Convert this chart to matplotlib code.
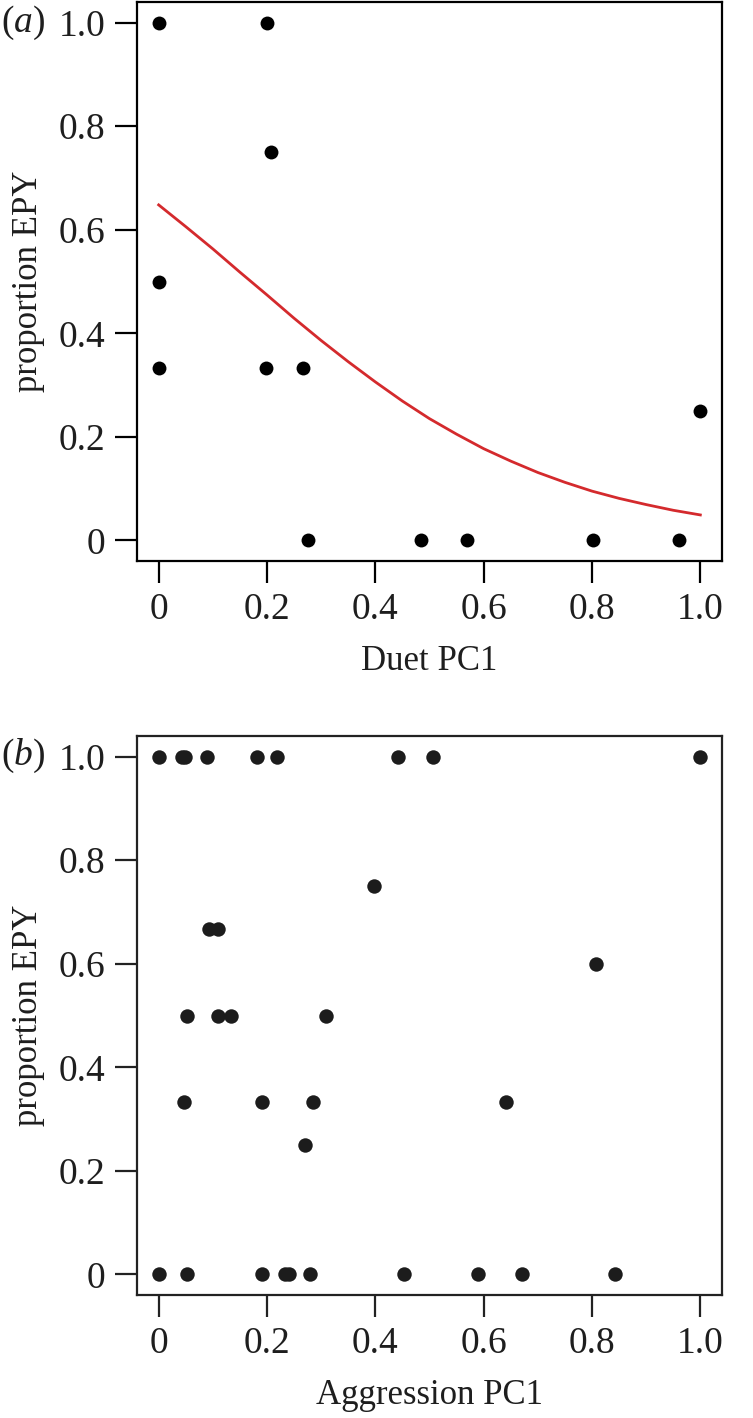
import matplotlib
matplotlib.use('Agg')
import matplotlib.pyplot as plt

FIGSIZE = (7.53, 14.18)
DPI = 100
FONT = 'Liberation Serif'
RED = '#d42a2d'

# panel (a): duet
duet_x = [0.0, 0.200, 0.208, 0.0, 0.0, 0.198, 0.266, 1.0,
          0.275, 0.485, 0.570, 0.802, 0.960]
duet_y = [1.0, 1.0, 0.75, 0.5, 0.333, 0.333, 0.333, 0.25,
          0.0, 0.0, 0.0, 0.0, 0.0]

# fitted curve
fit_x = [0.0, 0.05, 0.1, 0.15, 0.2, 0.25, 0.3, 0.35, 0.4, 0.45, 0.5,
         0.55, 0.6, 0.65, 0.7, 0.75, 0.8, 0.85, 0.9, 0.95, 1.0]
fit_y = [0.648, 0.606, 0.563, 0.518, 0.474, 0.429, 0.386, 0.345, 0.306,
         0.269, 0.235, 0.205, 0.177, 0.153, 0.131, 0.112, 0.095, 0.081,
         0.069, 0.058, 0.049]

# panel (b): aggression
aggr_x = [0.0, 0.043, 0.049, 0.089, 0.181, 0.218, 0.441, 0.507, 1.0,
          0.397,
          0.093, 0.110,
          0.807,
          0.052, 0.109, 0.133, 0.309,
          0.046, 0.191, 0.285, 0.642,
          0.270,
          0.0, 0.052, 0.191, 0.233, 0.240, 0.280, 0.453, 0.589, 0.671,
          0.842]
aggr_y = [1.0] * 9 + [0.75] + [0.667] * 2 + [0.6] + [0.5] * 4 + \
         [0.333] * 4 + [0.25] + [0.0] * 10

TICKS = [0.0, 0.2, 0.4, 0.6, 0.8, 1.0]
TICK_LABELS = ['0', '0.2', '0.4', '0.6', '0.8', '1.0']

plt.rcParams['font.family'] = FONT
plt.rcParams['mathtext.fontset'] = 'custom'
plt.rcParams['mathtext.rm'] = FONT
plt.rcParams['mathtext.it'] = FONT + ':italic'


def px(x, y):
    # pixel position (from top-left) -> figure fraction
    return x / (FIGSIZE[0] * DPI), 1 - y / (FIGSIZE[1] * DPI)


def style_axes(ax, edge):
    ax.set_xlim(-0.04, 1.04)
    ax.set_ylim(-0.04, 1.04)
    ax.set_xticks(TICKS)
    ax.set_xticklabels(TICK_LABELS)
    ax.set_yticks(TICKS)
    ax.set_yticklabels(TICK_LABELS)
    for s in ax.spines.values():
        s.set_linewidth(1.6)
        s.set_color(edge)
    ax.tick_params(direction='out', length=15.8, width=1.6, color=edge,
                   labelsize=27, pad=7, labelcolor='#1e1e1e')


fig = plt.figure(figsize=FIGSIZE, dpi=DPI)
W, H = FIGSIZE[0] * DPI, FIGSIZE[1] * DPI

ax1 = fig.add_axes([137 / W, 1 - 561 / H, 585 / W, 559 / H])
ax1.plot(fit_x, fit_y, color=RED, lw=2.0, zorder=2)
ax1.plot(duet_x, duet_y, 'o', color='black', markersize=10, mew=0, zorder=3)
style_axes(ax1, 'black')
ax1.set_xlabel('Duet PC1', fontsize=25, labelpad=13, color='#1e1e1e')
ax1.set_ylabel('proportion EPY', fontsize=25, labelpad=10, color='#1e1e1e')

ax2 = fig.add_axes([137 / W, 1 - 1295 / H, 585 / W, 559 / H])
ax2.plot(aggr_x, aggr_y, 'o', color='#1c1c1c', markersize=10.4, mew=0,
         zorder=3)
style_axes(ax2, '#222222')
ax2.set_xlabel('Aggression PC1', fontsize=25, labelpad=13, color='#1e1e1e')
ax2.set_ylabel('proportion EPY', fontsize=25, labelpad=10, color='#1e1e1e')

for label, ypix in [('a', 23), ('b', 756)]:
    fx, fy = px(1, ypix)
    fig.text(fx, fy, r'($\mathit{' + label + '}$)', fontsize=27,
             ha='left', va='center', color='#1e1e1e')

fig.savefig('out.png', dpi=DPI)
